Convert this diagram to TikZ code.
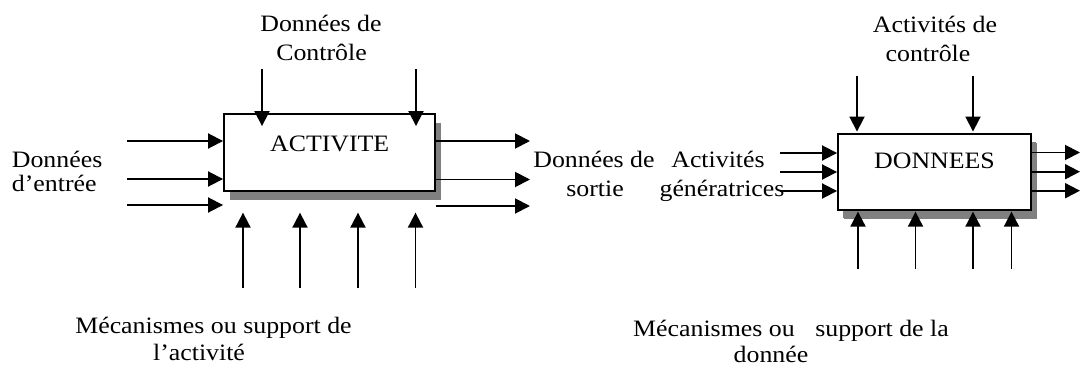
\documentclass[tikz,border=0pt]{standalone}
\usepackage{fontspec}
\setmainfont{Liberation Serif}[FakeStretch=1.1]
\usetikzlibrary{arrows.meta,shadows,calc}
\begin{document}
\begin{tikzpicture}[x=1pt,y=-1pt,
  arr/.style={line width=1.9pt,-{Triangle[length=15pt,width=15pt]}},
  box/.style={draw,line width=1.9pt,fill=white,inner sep=0pt,
    drop shadow={shadow xshift=5.5pt,shadow yshift=-8.5pt,fill=black!50,opacity=1}},
  lbl/.style={anchor=base,inner sep=0pt,font=\fontsize{23.5}{28}\selectfont}]
\useasboundingbox (0,0) rectangle (1081,367);

% ---------- left diagram ----------
\node[box,minimum width=211pt,minimum height=77pt] (A) at (329.5,152.5) {};
\node[lbl] (Atxt) at (329.7,151) {ACTIVITE};

\node[lbl] (lc1) at (321,31.7) {Données de};
\node[lbl] (lc2) at (321.5,60) {Contrôle};
\node[lbl,anchor=base west] (li1) at (11.7,167) {Données};
\node[lbl,anchor=base west] (li2) at (11.7,191) {d’entrée};
\node[lbl] (lo1) at (594,167) {Données de};
\node[lbl] (lo2) at (595,196) {sortie};
\node[lbl] (lm1) at (213.5,333) {Mécanismes ou support de};
\node[lbl] (lm2) at (199,360) {l’activité};

\coordinate (c1) at (262,69);
\coordinate (c2) at (416,69);
\draw[arr] (c1) -- ($(c1 |- A.north)+(0,13)$);
\draw[arr] (c2) -- ($(c2 |- A.north)+(0,13)$);

\coordinate (i1) at (127,141);
\coordinate (i2) at (127,179);
\coordinate (i3) at (127,205);
\foreach \c in {i1,i2,i3} \draw[arr] (\c) -- (\c -| A.west);

\coordinate (o1) at (530,141);
\coordinate (o2) at (530,179.5);
\coordinate (o3) at (530,206);
\foreach \c in {o1,o2,o3} \draw[arr] (\c -| A.east) -- (\c);

\coordinate (m1) at (243,288);
\coordinate (m2) at (300,288);
\coordinate (m3) at (358,288);
\coordinate (m4) at (415.5,288);
\foreach \c in {m1,m2,m3,m4} \draw[arr] (\c) -- ($(\c |- A.south)+(0,20.7)$);

% ---------- right diagram ----------
\node[box,minimum width=193pt,minimum height=76pt,
  drop shadow={shadow xshift=5pt,shadow yshift=-8pt,fill=black!50,opacity=1}] (B) at (934.5,172) {};
\node[lbl] (Btxt) at (934.5,168) {DONNEES};

\node[lbl] (rc1t) at (935,32) {Activités de};
\node[lbl] (rc2t) at (928,61) {contrôle};
\node[lbl] (ri1t) at (718,167) {Activités};
\node[lbl] (ri2t) at (722,196.7) {génératrices};
\node[lbl] (rm1t) at (791,336) {Mécanismes ou\hspace{0.6em} support de la};
\node[lbl] (rm2t) at (771,362) {donnée};

\coordinate (rc1) at (857,76);
\coordinate (rc2) at (973,76);
\foreach \c in {rc1,rc2} \draw[arr] (\c) -- ($(\c |- B.north)+(0,-1.5)$);

\coordinate (ri1) at (780,153);
\coordinate (ri2) at (780,172);
\coordinate (ri3) at (780,191);
\foreach \c in {ri1,ri2,ri3} \draw[arr] (\c) -- (\c -| B.west);

\coordinate (ro1) at (1080,152.5);
\coordinate (ro2) at (1080,171.7);
\coordinate (ro3) at (1080,190.7);
\foreach \c in {ro1,ro2,ro3} \draw[arr] (\c -| B.east) -- (\c);

\coordinate (rm1) at (858,269);
\coordinate (rm2) at (915.5,269);
\coordinate (rm3) at (973,269);
\coordinate (rm4) at (1011.5,269);
\foreach \c in {rm1,rm2,rm3,rm4} \draw[arr] (\c) -- ($(\c |- B.south)+(0,0.7)$);
\end{tikzpicture}
\end{document}
